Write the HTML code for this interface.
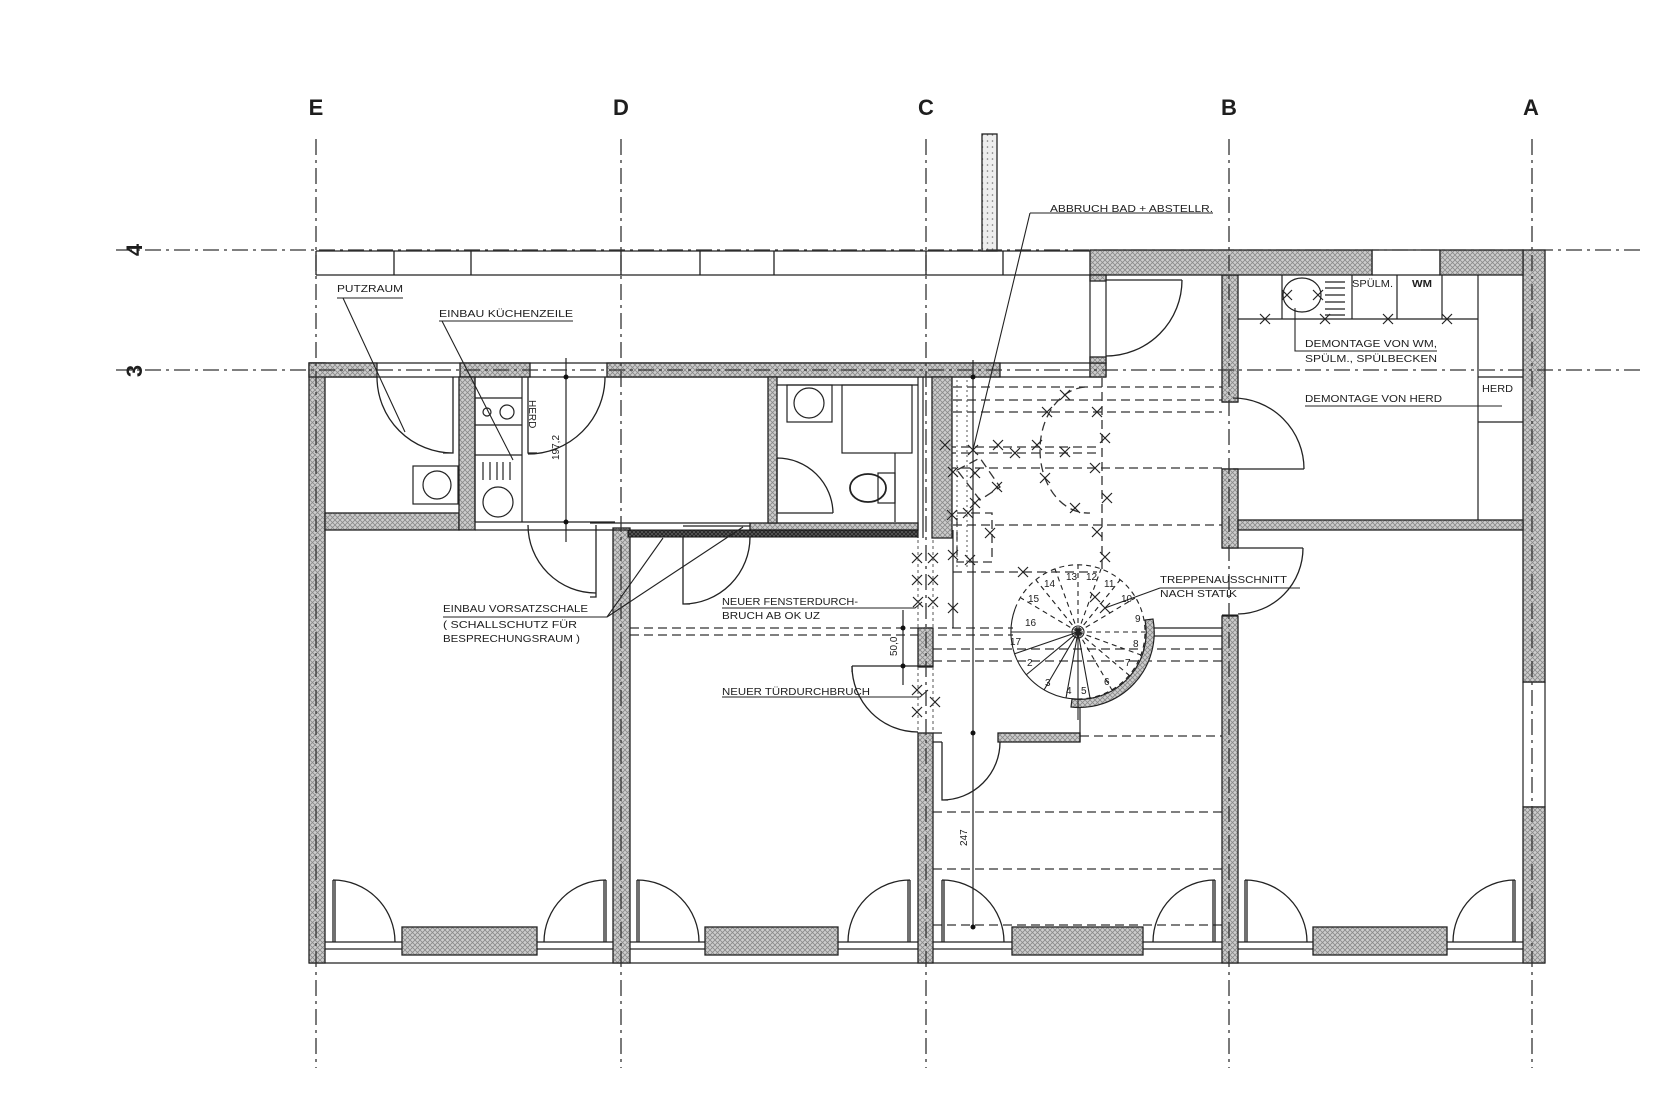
<!DOCTYPE html>
<html><head><meta charset="utf-8"><style>
html,body{margin:0;padding:0;background:#fff;}
svg{display:block}
text{font-family:"Liberation Sans Narrow","Liberation Sans",sans-serif;fill:#1e1e1e}
</style></head><body>
<svg width="1680" height="1120" viewBox="0 0 1680 1120" xmlns="http://www.w3.org/2000/svg">
<defs>
<pattern id="h" width="5" height="5" patternUnits="userSpaceOnUse"><rect width="5" height="5" fill="#cdcdcd"/><path d="M0 0L5 5M5 0L0 5" stroke="#8a8a8a" stroke-width="0.8"/></pattern>
<pattern id="k" width="4" height="4" patternUnits="userSpaceOnUse"><rect width="4" height="4" fill="#5a5a5a"/><path d="M0 0L4 4M4 0L0 4" stroke="#222" stroke-width="0.8"/></pattern>
<pattern id="p" width="5" height="6" patternUnits="userSpaceOnUse"><rect width="5" height="6" fill="#eee"/><circle cx="2.5" cy="3" r="0.8" fill="#777"/></pattern>
<path id="x" d="M-5 -5L5 5M-5 5L5 -5" stroke="#222" stroke-width="1.2" fill="none"/>
</defs>
<rect width="1680" height="1120" fill="#fff"/>

<!-- ceiling dashed lines -->
<g stroke="#333" stroke-width="1.3" stroke-dasharray="9 5" fill="none">
<path d="M953 387H1222M953 400H1222M953 412H1222M933 447H1097M933 453H1097M933 468H1222M953 525H1222M953 572H1097M630 628H1013M630 635H1013M933 649H1222M933 661H1222M1080 736H1222M933 812H1222M933 869H1222M933 925H1222"/>
<path d="M1102 378V572"/>
<path d="M1085 387A48 63 0 0 0 1040 450A48 63 0 0 0 1090 513"/>
<rect x="957" y="513" width="35" height="49"/>
<path d="M957 470L980 458L1000 487L980 500Z"/>
</g>
<g stroke="#555" stroke-width="1" stroke-dasharray="2 3" fill="none">
<path d="M957 380V570M967 380V570"/>
</g>

<!-- north strip -->
<g stroke="#222" stroke-width="1.3" fill="none">
<path d="M316 251H1090M316 275H1090"/>
<path d="M316 251V275M394 251V275M471 251V275M621 251V275M700 251V275M774 251V275M926 251V275M1003 251V275"/>
</g>
<rect x="982" y="134" width="15" height="117" fill="url(#p)" stroke="#222" stroke-width="1.3"/>

<!-- bottom lines -->
<g stroke="#222" stroke-width="1.2" fill="none">
<path d="M325 942H1523M325 949H1523M309 963H1545"/>
<path d="M309 363H1106M309 377H1106"/>
<path d="M1372 250H1440M1372 275H1440M1372 250V275M1440 250V275"/>
<path d="M1090 275V377M1106 275V377"/>
<path d="M1523 682V807M1545 682V807M1523 682H1545M1523 807H1545"/>
<path d="M1222 402H1238M1222 469H1238M1222 548H1238M1222 616H1238"/>
</g>
<path d="M1222 616H1238" stroke="#111" stroke-width="3"/>

<!-- walls -->
<g fill="url(#h)" stroke="#222" stroke-width="1.3">
<rect x="309" y="363" width="16" height="600"/>
<rect x="613" y="528" width="17" height="435"/>
<rect x="918" y="733" width="15" height="230"/>
<rect x="918" y="628" width="15" height="39"/>
<rect x="1222" y="275" width="16" height="127"/>
<rect x="1222" y="469" width="16" height="79"/>
<rect x="1222" y="616" width="16" height="347"/>
<rect x="1523" y="250" width="22" height="432"/>
<rect x="1523" y="807" width="22" height="156"/>
<rect x="309" y="363" width="68" height="14"/>
<rect x="460" y="363" width="70" height="14"/>
<rect x="607" y="363" width="393" height="14"/>
<rect x="1090" y="363" width="16" height="14"/>
<rect x="1090" y="250" width="282" height="25"/>
<rect x="1440" y="250" width="83" height="25"/>
<rect x="1090" y="275" width="16" height="6"/>
<rect x="1090" y="357" width="16" height="6"/>
<rect x="325" y="513" width="134" height="17"/>
<rect x="459" y="377" width="16" height="153"/>
<rect x="932" y="377" width="20" height="161"/>
<rect x="1238" y="520" width="285" height="10"/>
<rect x="750" y="523" width="168" height="7"/>
<rect x="768" y="377" width="9" height="146"/>
<rect x="998" y="733" width="82" height="9"/>
<rect x="402" y="927" width="135" height="28"/>
<rect x="705" y="927" width="133" height="28"/>
<rect x="1012" y="927" width="131" height="28"/>
<rect x="1313" y="927" width="134" height="28"/>
</g>
<rect x="628" y="530" width="290" height="7" fill="url(#k)" stroke="#111" stroke-width="1"/>
<g stroke="#222" stroke-width="1.2" fill="none">
<path d="M918 377V538M923 377V538"/>
<path d="M590 523H750M590 530H628M683 526H750M475 522H615M475 530H615"/>
<path d="M1150 628H1222M1150 636H1222"/>
<path d="M933 733H942M933 742H942"/>
<path d="M953 530V628"/>
<path d="M1080 700V742"/>
<path d="M852 666H933M852 666V672"/>
</g>

<!-- stair wall arc -->
<path d="M1145 620A67 67 0 0 1 1072 699L1071 707A75 75 0 0 0 1153 619Z" fill="url(#h)" stroke="#222" stroke-width="1.2"/>

<!-- spiral stair -->
<g stroke="#222" stroke-width="1.1" fill="none">
<path d="M1078 699A67 67 0 0 1 1015 609"/>
<g stroke-dasharray="5 4">
<path d="M1015 609A67 67 0 0 1 1145 632A67 67 0 0 1 1078 699"/>
<path d="M1078 632L1145 632M1078 632L1141 655M1078 632L1130 676M1078 632L1078 565M1078 632L1101 569M1078 632L1120 580M1078 632L1135 598M1078 632L1055 569M1078 632L1036 580M1078 632L1021 598M1078 632L1112 690"/>
</g>
<path d="M1078 632L1090 698M1078 632L1066 698M1078 632L1044 690M1078 632L1026 675M1078 632L1014 654M1078 632L1011 632M1078 632V720"/>
<circle cx="1078" cy="632" r="6"/>
</g>
<g font-size="10">
<text x="1025" y="626">16</text><text x="1010" y="645">17</text><text x="1027" y="666">2</text>
<text x="1045" y="686">3</text><text x="1066" y="694">4</text><text x="1081" y="694">5</text>
<text x="1104" y="685">6</text><text x="1125" y="666">7</text><text x="1133" y="647">8</text>
<text x="1135" y="622">9</text><text x="1121" y="602">10</text><text x="1104" y="587">11</text>
<text x="1086" y="580">12</text><text x="1066" y="580">13</text><text x="1044" y="587">14</text>
<text x="1028" y="602">15</text>
</g>

<!-- fixtures -->
<g stroke="#222" stroke-width="1.2" fill="none">
<!-- putzraum -->
<rect x="413" y="466" width="45" height="38"/><circle cx="437" cy="485" r="14"/>
<!-- kitchen -->
<path d="M475 377V522M522 377V522M475 398H522M475 425H522M475 455H522"/>
<circle cx="487" cy="412" r="4"/><circle cx="507" cy="412" r="7"/>
<path d="M483 462V480M490 462V480M497 462V480M503 462V480M510 462V480"/>
<circle cx="498" cy="502" r="15"/>
<!-- bathroom -->
<path d="M777 385H918"/>
<rect x="787" y="385" width="45" height="37"/><circle cx="809" cy="403" r="15"/>
<rect x="842" y="385" width="70" height="68"/>
<path d="M895 453V522"/><rect x="878" y="473" width="17" height="30"/>
<ellipse cx="868" cy="488" rx="18" ry="14" stroke-width="1.8"/>
<!-- upper right kitchen -->
<path d="M1238 319H1478M1282 275V319M1352 275V319M1397 275V319M1442 275V319M1478 275V520M1478 377H1523M1478 422H1523"/>
<ellipse cx="1302" cy="295" rx="19" ry="17"/>
<path d="M1325 282H1345M1325 288H1345M1325 295H1345M1325 302H1345M1325 309H1345M1325 315H1345"/>
</g>

<!-- doors -->
<g stroke="#222" stroke-width="1.3" fill="none">
<path d="M1106 280H1182M1182 280A76 76 0 0 1 1106 356"/>
<path d="M1233 469H1304M1233 398A71 71 0 0 1 1304 469"/>
<path d="M1238 548H1303M1303 548A66 66 0 0 1 1238 614"/>
<path d="M942 742V800H948M1000 742A58 58 0 0 1 942 800"/>
<path d="M852 666A66 66 0 0 0 918 732"/>
<path d="M453 377V453H443M377 377A76 76 0 0 0 453 453"/>
<path d="M528 377V453H537M605 377A77 77 0 0 1 528 454"/>
<path d="M596 525V597H590M528 525A68 68 0 0 0 596 593"/>
<path d="M683 537V604H690M750 537A67 67 0 0 1 683 604"/>
<path d="M777 458V513H833M777 458A56 56 0 0 1 833 513"/>
<!-- bottom doors -->
<path d="M333 880V942M335 880V942M333 880A62 62 0 0 1 395 942"/>
<path d="M637 880V942M639 880V942M637 880A62 62 0 0 1 699 942"/>
<path d="M942 880V942M944 880V942M942 880A62 62 0 0 1 1004 942"/>
<path d="M1245 880V942M1247 880V942M1245 880A62 62 0 0 1 1307 942"/>
<path d="M606 880V942M604 880V942M606 880A62 62 0 0 0 544 942"/>
<path d="M910 880V942M908 880V942M910 880A62 62 0 0 0 848 942"/>
<path d="M1215 880V942M1213 880V942M1215 880A62 62 0 0 0 1153 942"/>
<path d="M1515 880V942M1513 880V942M1515 880A62 62 0 0 0 1453 942"/>
</g>

<!-- dimensions -->
<g stroke="#222" stroke-width="1.2" fill="none">
<path d="M566 358V542M903 610V685M973 360V927"/>
</g>
<g fill="#111">
<circle cx="566" cy="377" r="2.5"/><circle cx="566" cy="522" r="2.5"/>
<circle cx="903" cy="628" r="2.5"/><circle cx="903" cy="666" r="2.5"/>
<circle cx="973" cy="377" r="2.5"/><circle cx="973" cy="733" r="2.5"/><circle cx="973" cy="927" r="2.5"/>
</g>
<g font-size="10">
<text transform="translate(559,460) rotate(-90)">197,2</text>
<text transform="translate(897,656) rotate(-90)">50,0</text>
<text transform="translate(967,846) rotate(-90)">247</text>
<text transform="translate(529,400) rotate(90)">HERD</text>
</g>

<!-- X marks -->
<g>
<use href="#x" x="1065" y="395"/><use href="#x" x="1047" y="412"/><use href="#x" x="1097" y="412"/>
<use href="#x" x="1105" y="438"/><use href="#x" x="945" y="445"/><use href="#x" x="973" y="450"/>
<use href="#x" x="998" y="445"/><use href="#x" x="1015" y="453"/><use href="#x" x="1037" y="445"/>
<use href="#x" x="1065" y="452"/><use href="#x" x="1095" y="468"/><use href="#x" x="953" y="472"/>
<use href="#x" x="975" y="473"/><use href="#x" x="997" y="487"/><use href="#x" x="1045" y="478"/>
<use href="#x" x="1107" y="498"/><use href="#x" x="975" y="503"/><use href="#x" x="1075" y="508"/>
<use href="#x" x="952" y="515"/><use href="#x" x="968" y="513"/><use href="#x" x="990" y="533"/>
<use href="#x" x="1097" y="532"/><use href="#x" x="953" y="555"/><use href="#x" x="970" y="560"/>
<use href="#x" x="1105" y="557"/><use href="#x" x="1023" y="572"/><use href="#x" x="1095" y="597"/>
<use href="#x" x="1105" y="608"/><use href="#x" x="953" y="608"/>
<use href="#x" x="917" y="558"/><use href="#x" x="933" y="558"/><use href="#x" x="917" y="580"/>
<use href="#x" x="933" y="580"/><use href="#x" x="918" y="602"/><use href="#x" x="933" y="602"/>
<use href="#x" x="917" y="690"/><use href="#x" x="935" y="702"/><use href="#x" x="917" y="712"/>
<use href="#x" x="1265" y="319"/><use href="#x" x="1325" y="319"/><use href="#x" x="1388" y="319"/><use href="#x" x="1447" y="319"/>
<use href="#x" x="1287" y="295"/><use href="#x" x="1318" y="295"/>
</g>
<g stroke="#555" stroke-width="1" stroke-dasharray="3 3" fill="none">
<path d="M918 540V628M933 540V628M918 667V733M933 667V733"/>
</g>

<!-- labels & leaders -->
<g stroke="#222" stroke-width="1.1" fill="none">
<path d="M337 298H403M343 298L405 432"/>
<path d="M439 321H573M442 321L513 460"/>
<path d="M1030 213H1213M1030 213L973 450"/>
<path d="M1295 308V351H1437"/>
<path d="M1305 406H1502"/>
<path d="M443 617H607L663 538M607 617L743 527"/>
<path d="M722 608H915L922 602"/>
<path d="M722 697H920L928 690"/>
<path d="M1160 588H1300M1160 588L1105 608"/>
</g>
<g font-size="10.5">
<text x="337" y="292" textLength="66" lengthAdjust="spacingAndGlyphs">PUTZRAUM</text>
<text x="439" y="317" textLength="134" lengthAdjust="spacingAndGlyphs">EINBAU KÜCHENZEILE</text>
<text x="1050" y="212" textLength="163" lengthAdjust="spacingAndGlyphs">ABBRUCH BAD + ABSTELLR.</text>
<text x="1352" y="287" textLength="41" lengthAdjust="spacingAndGlyphs">SPÜLM.</text>
<text x="1412" y="287" textLength="20" lengthAdjust="spacingAndGlyphs" font-weight="bold">WM</text>
<text x="1305" y="347" textLength="132" lengthAdjust="spacingAndGlyphs">DEMONTAGE VON WM,</text>
<text x="1305" y="362" textLength="132" lengthAdjust="spacingAndGlyphs">SPÜLM., SPÜLBECKEN</text>
<text x="1482" y="392" textLength="31" lengthAdjust="spacingAndGlyphs">HERD</text>
<text x="1305" y="402" textLength="137" lengthAdjust="spacingAndGlyphs">DEMONTAGE VON HERD</text>
<text x="443" y="612" textLength="145" lengthAdjust="spacingAndGlyphs">EINBAU VORSATZSCHALE</text>
<text x="443" y="628" textLength="134" lengthAdjust="spacingAndGlyphs">( SCHALLSCHUTZ FÜR</text>
<text x="443" y="642" textLength="137" lengthAdjust="spacingAndGlyphs">BESPRECHUNGSRAUM )</text>
<text x="722" y="605" textLength="136" lengthAdjust="spacingAndGlyphs">NEUER FENSTERDURCH-</text>
<text x="722" y="619" textLength="98" lengthAdjust="spacingAndGlyphs">BRUCH AB OK UZ</text>
<text x="722" y="695" textLength="148" lengthAdjust="spacingAndGlyphs">NEUER TÜRDURCHBRUCH</text>
<text x="1160" y="583" textLength="127" lengthAdjust="spacingAndGlyphs">TREPPENAUSSCHNITT</text>
<text x="1160" y="597" textLength="77" lengthAdjust="spacingAndGlyphs">NACH STATIK</text>
</g>

<!-- grid lines -->
<g stroke="#333" stroke-width="1.3" stroke-dasharray="16 5 3 5" fill="none">
<path d="M316 139V1068M621 139V1068M926 139V1068M1229 139V1068M1532 139V1068"/>
<path d="M116 250H1640M116 370H1640"/>
</g>
<g font-family="Liberation Sans, sans-serif" font-weight="bold" font-size="22" text-anchor="middle">
<text x="316" y="115" style="font-family:'Liberation Sans',sans-serif">E</text>
<text x="621" y="115" style="font-family:'Liberation Sans',sans-serif">D</text>
<text x="926" y="115" style="font-family:'Liberation Sans',sans-serif">C</text>
<text x="1229" y="115" style="font-family:'Liberation Sans',sans-serif">B</text>
<text x="1531" y="115" style="font-family:'Liberation Sans',sans-serif">A</text>
<text transform="translate(142,250) rotate(-90)" style="font-family:'Liberation Sans',sans-serif">4</text>
<text transform="translate(142,371) rotate(-90)" style="font-family:'Liberation Sans',sans-serif">3</text>
</g>
</svg>
</body></html>
